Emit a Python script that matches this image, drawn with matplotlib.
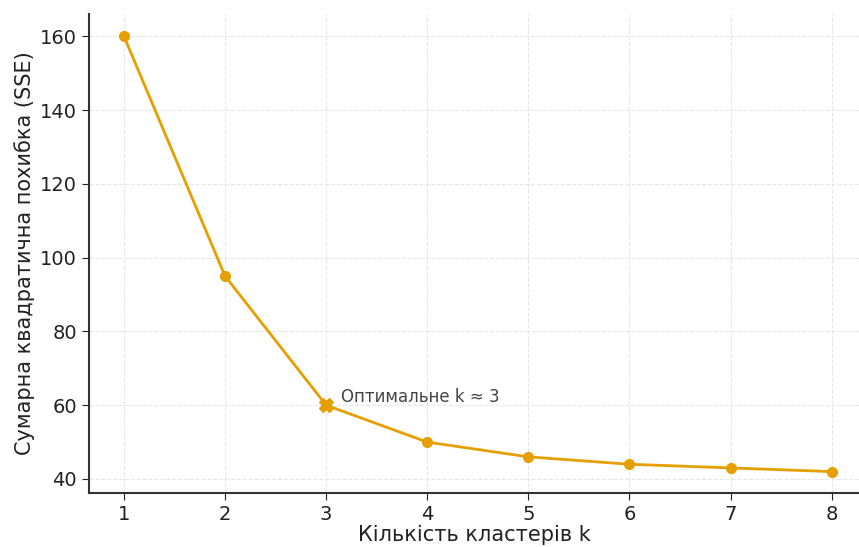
import matplotlib.pyplot as plt

k_values = [1, 2, 3, 4, 5, 6, 7, 8]
sse_values = [160, 95, 60, 50, 46, 44, 43, 42]
optimal_k = 3
optimal_sse = 60

color = '#E69F00'

fig = plt.figure(figsize=(8.59, 5.47), dpi=100)
ax = fig.add_axes([0.1036, 0.0987, 0.8964, 0.8753])

ax.plot(k_values, sse_values, marker='o', color=color, linewidth=2, markersize=7)
ax.plot([optimal_k], [optimal_sse], marker='X', color=color, markersize=10)
ax.annotate('Оптимальне k ≈ 3', xy=(optimal_k, optimal_sse), xytext=(11, 2),
            textcoords='offset points', fontsize=12, color='#444444')

ax.set_xlim(0.654, 8.27)
ax.set_ylim(36.2, 166)
ax.set_xticks(k_values)
ax.set_yticks([40, 60, 80, 100, 120, 140, 160])
ax.tick_params(labelsize=14, colors='#222222', length=5)
ax.set_xlabel('Кількість кластерів k', fontsize=15, color='#222222', labelpad=1)
ax.set_ylabel('Сумарна квадратична похибка (SSE)', fontsize=15, color='#222222')
ax.grid(True, linestyle='--', color='#dddddd', alpha=0.7)
ax.spines['top'].set_visible(False)
ax.spines['right'].set_visible(False)
ax.spines['left'].set_linewidth(1.5)
ax.spines['bottom'].set_linewidth(1.5)
ax.spines['left'].set_color('#333333')
ax.spines['bottom'].set_color('#333333')

plt.savefig('out.png', dpi=100)
